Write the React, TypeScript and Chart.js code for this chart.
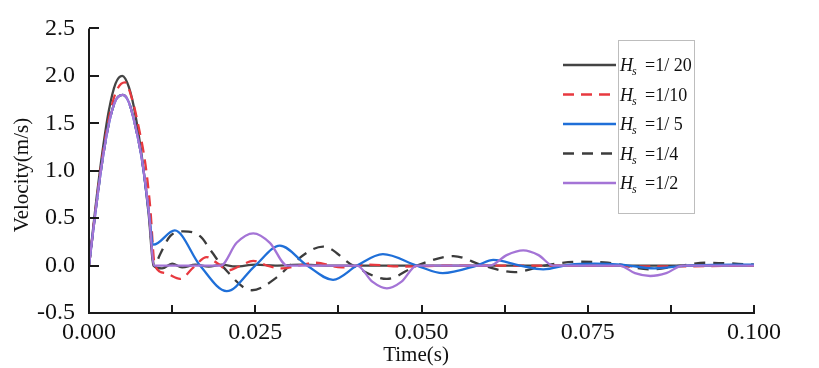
import React, { useEffect, useRef } from 'react';
import { Chart, registerables } from 'chart.js';

Chart.register(...registerables);

// ---------- data ----------
const seriesNames = ['1/ 20', '1/10', '1/ 5', '1/4', '1/2'];

const xTickValues = [0, 0.0125, 0.025, 0.0375, 0.05, 0.0625, 0.075, 0.0875, 0.1];
const xTickLabels = ['0.000', '', '0.025', '', '0.050', '', '0.075', '', '0.100'];
const yTickValues = [-0.5, 0, 0.5, 1.0, 1.5, 2.0, 2.5];
const yTickLabels = ['-0.5', '0.0', '0.5', '1.0', '1.5', '2.0', '2.5'];

// Hs = 1/20
const tHs20 = [0, 0.001, 0.002, 0.003, 0.004, 0.005, 0.006, 0.007, 0.008, 0.009, 0.0097, 0.011, 0.0125, 0.014, 0.016, 0.018, 0.02, 0.022, 0.025, 0.028, 0.032, 0.036, 0.04, 0.045, 0.05, 0.06, 0.07, 0.08, 0.09, 0.1];
const vHs20 = [0, 0.63, 1.19, 1.64, 1.92, 2.0, 1.88, 1.58, 1.12, 0.52, 0, -0.03, 0.02, -0.02, 0.01, -0.01, 0.01, -0.01, 0.01, 0, 0.01, 0, 0, 0, 0, 0, 0, 0, 0, 0];

// Hs = 1/10
const tHs10 = [0, 0.001, 0.002, 0.003, 0.004, 0.0054, 0.0065, 0.0075, 0.0085, 0.0092, 0.0099, 0.0115, 0.0137, 0.0157, 0.0177, 0.0192, 0.021, 0.0228, 0.0247, 0.0268, 0.029, 0.0315, 0.034, 0.038, 0.042, 0.047, 0.055, 0.065, 0.075, 0.085, 0.1];
const vHs10 = [0, 0.6, 1.14, 1.55, 1.82, 1.93, 1.75, 1.45, 1.06, 0.62, 0, -0.08, -0.14, -0.02, 0.09, 0.03, -0.05, 0.0, 0.05, 0.0, -0.03, 0.0, 0.03, -0.02, 0.01, -0.01, 0, 0, 0, -0.01, 0];

// Hs = 1/5
const tHs5 = [0, 0.001, 0.002, 0.003, 0.004, 0.0051, 0.006, 0.007, 0.008, 0.009, 0.0097, 0.0129, 0.0167, 0.0207, 0.025, 0.0287, 0.0328, 0.0367, 0.0403, 0.0442, 0.0493, 0.0532, 0.0583, 0.0608, 0.0648, 0.0683, 0.0723, 0.076, 0.08, 0.085, 0.09, 0.1];
const vHs5 = [0, 0.58, 1.1, 1.5, 1.74, 1.8, 1.72, 1.46, 1.1, 0.56, 0.22, 0.37, 0, -0.27, 0, 0.21, 0, -0.15, 0, 0.12, 0, -0.08, 0, 0.06, 0, -0.04, 0.01, 0.02, 0.01, -0.03, 0.0, 0.01];

// Hs = 1/4
const tHs4 = [0, 0.001, 0.002, 0.003, 0.004, 0.0051, 0.006, 0.007, 0.008, 0.009, 0.0098, 0.0107, 0.0122, 0.0142, 0.0167, 0.0185, 0.02, 0.0245, 0.0285, 0.0302, 0.0352, 0.0397, 0.0448, 0.0493, 0.0548, 0.0593, 0.064, 0.0685, 0.0735, 0.078, 0.0845, 0.089, 0.093, 0.1];
const vHs4 = [0, 0.58, 1.1, 1.5, 1.74, 1.8, 1.72, 1.46, 1.1, 0.56, 0, 0.12, 0.31, 0.36, 0.31, 0.14, 0, -0.26, -0.11, 0.0, 0.2, 0, -0.14, 0, 0.1, 0, -0.07, 0, 0.04, 0.03, -0.04, 0, 0.03, 0.01];

// Hs = 1/2
const tHs2 = [0, 0.001, 0.002, 0.003, 0.004, 0.0051, 0.006, 0.007, 0.008, 0.009, 0.0098, 0.0198, 0.0222, 0.0247, 0.0272, 0.0298, 0.0403, 0.0426, 0.0448, 0.047, 0.0493, 0.0603, 0.0628, 0.0653, 0.0676, 0.0698, 0.0798, 0.0821, 0.0844, 0.0868, 0.0893, 0.1];
const vHs2 = [0, 0.58, 1.1, 1.5, 1.74, 1.8, 1.72, 1.46, 1.1, 0.56, 0, 0, 0.24, 0.34, 0.24, 0, 0, -0.17, -0.24, -0.17, 0, 0, 0.11, 0.16, 0.11, 0, 0, -0.08, -0.11, -0.08, 0, 0];

const seriesTimes = [tHs20, tHs10, tHs5, tHs4, tHs2];
const seriesValues = [vHs20, vHs10, vHs5, vHs4, vHs2];

// ---------- styles ----------
const colors = ['#444444', '#e8393f', '#1f6fd8', '#3c3c3c', '#a474d6'];
const dashes: number[][] = [[], [11, 7], [], [11, 8], []];
const drawOrder = [4, 3, 2, 5, 1];
const SERIF = '"Liberation Serif", "Times New Roman", serif';

const decorPlugin = {
  id: 'decor',
  afterDraw(chart: any) {
    const ctx = chart.ctx as CanvasRenderingContext2D;
    const { left, right, top, bottom } = chart.chartArea;
    const xs = chart.scales.x;
    const ys = chart.scales.y;
    ctx.save();
    // axis lines
    ctx.strokeStyle = '#1a1a1a';
    ctx.lineWidth = 2;
    ctx.setLineDash([]);
    ctx.beginPath();
    ctx.moveTo(left, top);
    ctx.lineTo(left, bottom);
    ctx.lineTo(right + 1, bottom);
    ctx.stroke();
    // inward ticks
    ctx.beginPath();
    xs.ticks.forEach((t: any) => {
      const px = Math.round(xs.getPixelForValue(t.value));
      ctx.moveTo(px, bottom);
      ctx.lineTo(px, bottom - 8);
    });
    ys.ticks.forEach((t: any) => {
      const py = Math.round(ys.getPixelForValue(t.value));
      ctx.moveTo(left, py);
      ctx.lineTo(left + 10, py);
    });
    ctx.stroke();

    // axis titles
    ctx.fillStyle = '#111';
    ctx.font = `21px ${SERIF}`;
    ctx.textAlign = 'center';
    ctx.textBaseline = 'middle';
    ctx.fillText('Time(s)', 416, 355);
    ctx.save();
    ctx.translate(22, 175);
    ctx.rotate(-Math.PI / 2);
    ctx.fillText('Velocity(m/s)', 0, 0);
    ctx.restore();

    // legend
    const rowY0 = 65;
    const rowStep = 29.5;
    ctx.strokeStyle = '#bdbdbd';
    ctx.lineWidth = 1;
    ctx.strokeRect(618.5, 40.5, 76, 173);
    seriesNames.forEach((name, i) => {
      const y = rowY0 + i * rowStep;
      ctx.strokeStyle = colors[i];
      ctx.lineWidth = 2.4;
      ctx.setLineDash(dashes[i]);
      ctx.beginPath();
      ctx.moveTo(563, y);
      ctx.lineTo(616, y);
      ctx.stroke();
      ctx.setLineDash([]);
      ctx.fillStyle = '#111';
      ctx.textAlign = 'left';
      ctx.textBaseline = 'alphabetic';
      ctx.font = `italic 18px ${SERIF}`;
      ctx.fillText('H', 620, y + 6);
      ctx.font = `italic 12px ${SERIF}`;
      ctx.fillText('s', 632, y + 10);
      ctx.font = `18px ${SERIF}`;
      ctx.fillText('=' + name, 645, y + 6);
    });
    ctx.restore();
  },
};

export default function App() {
  const ref = useRef<HTMLCanvasElement>(null);
  useEffect(() => {
    const canvas = ref.current;
    if (!canvas) return;
    const datasets = seriesNames.map((name, i) => ({
      label: 'Hs = ' + name,
      data: seriesTimes[i].map((t, k) => ({ x: t, y: seriesValues[i][k] })),
      borderColor: colors[i],
      backgroundColor: colors[i],
      borderWidth: 2.3,
      borderDash: dashes[i],
      pointRadius: 0,
      fill: false,
      cubicInterpolationMode: 'monotone' as const,
      order: drawOrder[i],
    }));
    const chart = new Chart(canvas, {
      type: 'line',
      data: { datasets },
      options: {
        animation: false,
        responsive: false,
        maintainAspectRatio: false,
        layout: { padding: { left: 0, right: 65, top: 16, bottom: 0 } },
        plugins: { legend: { display: false }, tooltip: { enabled: false } },
        scales: {
          x: {
            type: 'linear',
            min: 0,
            max: 0.1,
            grid: { display: false, drawTicks: false },
            border: { display: false },
            afterBuildTicks: (scale: any) => {
              scale.ticks = xTickValues.map((v) => ({ value: v }));
            },
            afterFit: (scale: any) => {
              scale.height = 55;
            },
            ticks: {
              autoSkip: false,
              maxRotation: 0,
              padding: 5,
              color: '#111',
              font: { family: SERIF, size: 24 },
              callback: (_v: any, idx: number) => xTickLabels[idx] ?? '',
            },
          },
          y: {
            type: 'linear',
            min: -0.5,
            max: 2.5,
            grid: { display: false, drawTicks: false },
            border: { display: false },
            afterBuildTicks: (scale: any) => {
              scale.ticks = yTickValues.map((v) => ({ value: v }));
            },
            afterFit: (scale: any) => {
              scale.width = 89;
            },
            ticks: {
              padding: 14,
              color: '#111',
              font: { family: SERIF, size: 24 },
              callback: (_v: any, idx: number) => yTickLabels[idx] ?? '',
            },
          },
        },
      },
      plugins: [decorPlugin],
    });
    return () => chart.destroy();
  }, []);
  return (
    <div style={{ position: 'absolute', left: 0, top: 0, width: 819, height: 368, background: '#fff' }}>
      <canvas ref={ref} width={819} height={368} style={{ width: 819, height: 368, display: 'block' }} />
    </div>
  );
}
